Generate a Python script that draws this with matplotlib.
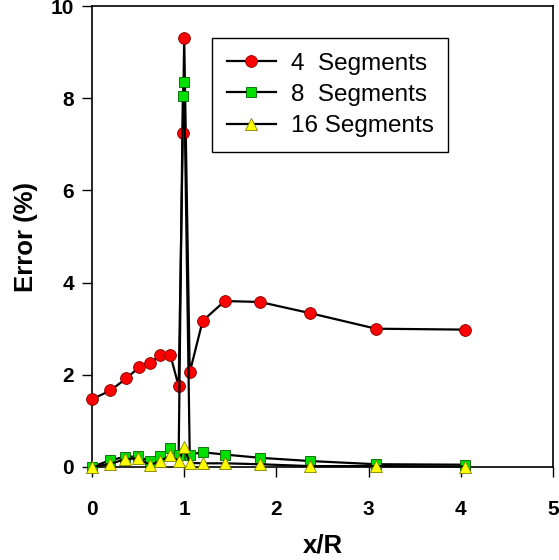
import matplotlib
matplotlib.use("Agg")
import matplotlib.pyplot as plt

x4 = [0.0, 0.2, 0.37, 0.51, 0.63, 0.74, 0.85, 0.94, 0.985, 1.0, 1.06, 1.2, 1.44, 1.82, 2.36, 3.08, 4.05]
y4 = [1.47, 1.66, 1.92, 2.16, 2.25, 2.43, 2.43, 1.75, 7.25, 9.3, 2.05, 3.17, 3.6, 3.58, 3.34, 3.0, 2.98]

x8 = [0.0, 0.2, 0.36, 0.5, 0.63, 0.74, 0.85, 0.94, 0.985, 1.0, 1.06, 1.2, 1.44, 1.82, 2.36, 3.08, 4.05]
y8 = [0.0, 0.15, 0.22, 0.23, 0.12, 0.23, 0.41, 0.25, 8.05, 8.35, 0.27, 0.32, 0.27, 0.2, 0.13, 0.06, 0.05]

x16 = [0.0, 0.2, 0.36, 0.5, 0.63, 0.74, 0.85, 0.94, 1.0, 1.06, 1.2, 1.44, 1.82, 2.36, 3.08, 4.05]
y16 = [0.0, 0.07, 0.17, 0.19, 0.04, 0.13, 0.25, 0.13, 0.43, 0.09, 0.08, 0.08, 0.06, 0.02, 0.02, 0.01]

labels = ["4  Segments", "8  Segments", "16 Segments"]
xticks = [0, 1, 2, 3, 4, 5]
yticks = [0, 2, 4, 6, 8, 10]

fig = plt.figure(figsize=(5.59, 5.60), dpi=100)
ax = fig.add_axes([92/559, 1-467/560, (553-92)/559, (467-6)/560])

ax.plot(x4, y4, color="black", lw=1.6, marker="o", ms=8.5, mfc="#ff0000", mec="#800000", mew=0.6, label=labels[0], clip_on=False, zorder=3)
ax.plot(x8, y8, color="black", lw=1.6, marker="s", ms=7, mfc="#00e000", mec="#006000", mew=0.6, label=labels[1], clip_on=False, zorder=3)
ax.plot(x16, y16, color="black", lw=1.6, marker="^", ms=8.5, mfc="#ffff00", mec="#808000", mew=0.6, label=labels[2], clip_on=False, zorder=4)

ax.set_xlim(0, 5)
ax.set_ylim(0, 10)
ax.set_xticks(xticks)
ax.set_yticks(yticks)
ax.tick_params(direction="out", length=7, width=1, labelsize=15)
ax.tick_params(axis="x", pad=17)
ax.tick_params(axis="y", pad=6)
for lab in ax.get_xticklabels() + ax.get_yticklabels():
    lab.set_fontweight("bold")
    lab.set_fontfamily("Liberation Sans")
for s in ax.spines.values():
    s.set_linewidth(1.2)

ax.set_xlabel("x/R", fontsize=18.5, fontweight="bold", family="Liberation Sans", labelpad=10)
ax.set_ylabel("Error (%)", fontsize=18.5, fontweight="bold", family="Liberation Sans", labelpad=9)

leg = ax.legend(loc="upper left", bbox_to_anchor=((212-92)/461, 1-(38-6)/461), prop={"family": "Liberation Sans", "size": 17.5},
                frameon=True, fancybox=False, edgecolor="black", framealpha=1, borderpad=0.6,
                labelspacing=0.38, handlelength=2.05, handletextpad=0.6, borderaxespad=0)
leg.get_frame().set_linewidth(1.0)

fig.savefig("out.png", dpi=100)
